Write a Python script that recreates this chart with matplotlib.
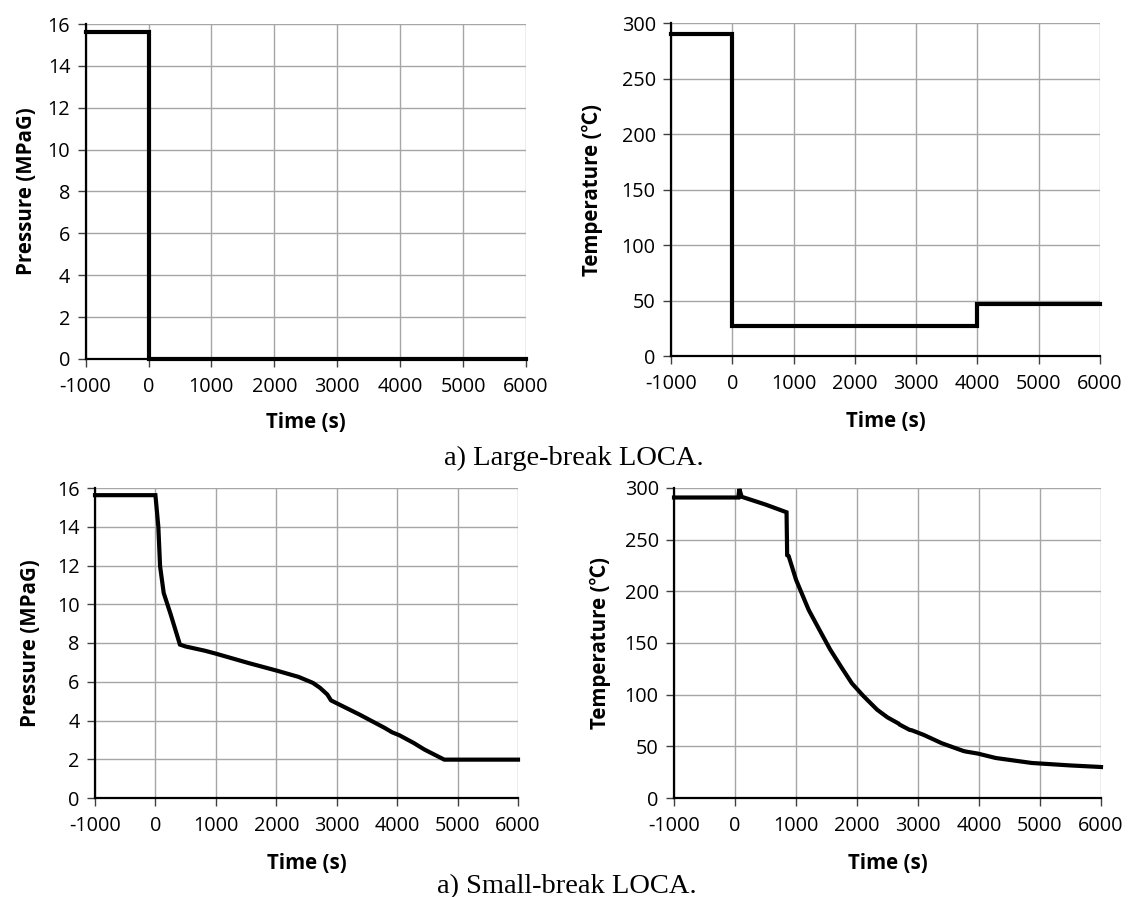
import matplotlib
matplotlib.use('Agg')
import matplotlib.pyplot as plt

plt.rcParams['font.family'] = ['Open Sans', 'Noto Sans CJK JP', 'DejaVu Sans']
plt.rcParams['axes.unicode_minus'] = False

# Large-break LOCA
lb_p_time = [-1000, 0, 0, 6000]
lb_p_val = [15.6, 15.6, 0.02, 0.02]
lb_t_time = [-1000, 0, 0, 4000, 4000, 6000]
lb_t_val = [290.5, 290.5, 27, 27, 47, 47]

# Small-break LOCA
sb_p_time = [-1000, 0, 48, 77, 137, 250, 405, 500, 820, 1000, 1536, 2012, 2369,
             2607, 2726, 2845, 2905, 2994, 3381, 3798, 3917, 4036, 4274, 4452, 4780, 6000]
sb_p_val = [15.63, 15.63, 14.0, 11.96, 10.58, 9.5, 7.92, 7.82, 7.6, 7.45, 6.97, 6.57, 6.25,
            5.94, 5.68, 5.34, 5.04, 4.9, 4.3, 3.61, 3.39, 3.24, 2.84, 2.5, 1.98, 1.98]
sb_t_time = [-1000, 55, 71, 110, 500, 845, 855, 880, 1002, 1208, 1400, 1562, 1750, 1916,
             2100, 2329, 2500, 2683, 2700, 2860, 2900, 3096, 3390, 3744, 3780, 3980, 4275,
             4864, 5500, 6000]
sb_t_val = [290.8, 290.8, 299, 291.5, 284, 276.5, 235, 234, 211, 182, 161, 143.5, 126, 111,
            99, 85.5, 78, 72, 71, 66, 65.5, 61, 53, 45.5, 45, 43, 38.7,
            33.9, 31.5, 30]

x_ticks = [-1000, 0, 1000, 2000, 3000, 4000, 5000, 6000]
p_ticks = [0, 2, 4, 6, 8, 10, 12, 14, 16]
t_ticks = [0, 50, 100, 150, 200, 250, 300]

W, H = 1128, 897
fig = plt.figure(figsize=(W / 100, H / 100), dpi=100)


def make_axes(left, top, right, bottom):
    return fig.add_axes([left / W, 1 - bottom / H, (right - left) / W, (bottom - top) / H])


def style(ax, x, y, yticks, ylabel, ylab_x, xlab_y):
    ax.plot(x, y, color='black', lw=3.0, solid_joinstyle='miter', clip_on=False, zorder=5)
    ax.set_xlim(-1000, 6000)
    ax.set_ylim(yticks[0], yticks[-1])
    ax.set_xticks(x_ticks)
    ax.set_yticks(yticks)
    ax.grid(True, color='#a6a6a6', lw=1.0)
    ax.set_axisbelow(True)
    for s in ['top', 'right']:
        ax.spines[s].set_visible(False)
    for s in ['left', 'bottom']:
        ax.spines[s].set_color('black')
        ax.spines[s].set_linewidth(1.6)
    ax.tick_params(axis='both', direction='out', length=6, width=1.0, color='#404040',
                   labelsize=14.3, labelcolor='black')
    ax.tick_params(axis='x', pad=7)
    ax.tick_params(axis='y', pad=5)
    ax.set_xlabel('Time (s)', fontsize=14.8, fontweight='bold', va='center')
    ax.set_ylabel(ylabel, fontsize=14.8, fontweight='bold', va='center')
    ax.xaxis.set_label_coords(0.5, xlab_y)
    ax.yaxis.set_label_coords(ylab_x, 0.5)


ax1 = make_axes(85.6, 24, 526, 359)
style(ax1, lb_p_time, lb_p_val, p_ticks, 'Pressure (MPaG)', -0.135, -0.191)

ax2 = make_axes(671, 23.3, 1100, 356)
style(ax2, lb_t_time, lb_t_val, t_ticks, 'Temperature (\u2103)', -0.182, -0.198)

ax3 = make_axes(95, 488, 518, 798)
style(ax3, sb_p_time, sb_p_val, p_ticks, 'Pressure (MPaG)', -0.152, -0.21)

ax4 = make_axes(674, 488, 1101, 798)
style(ax4, sb_t_time, sb_t_val, t_ticks, 'Temperature (\u2103)', -0.173, -0.21)

fig.text(574 / W, 1 - 465 / H, 'a) Large-break LOCA.', family='Liberation Serif',
         fontsize=20.5, ha='center', va='baseline')
fig.text(567 / W, 1 - 893 / H, 'a) Small-break LOCA.', family='Liberation Serif',
         fontsize=20.5, ha='center', va='baseline')

fig.savefig('out.png', dpi=100)
